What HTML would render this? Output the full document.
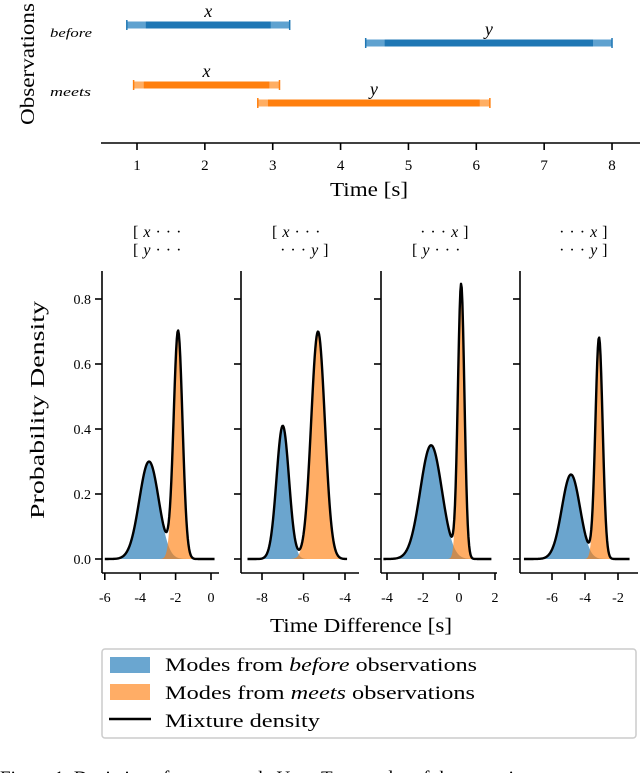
<!DOCTYPE html>
<html><head><meta charset="utf-8"><style>
html,body{margin:0;padding:0;background:#fff;width:640px;height:773px;overflow:hidden}
svg{display:block;font-family:"Liberation Serif",serif}
</style></head><body>
<svg id="fig" width="640" height="773" viewBox="0 0 640 773">
<g id="topchart"></g>
<g id="bottom"></g>
<g>
<rect x="102" y="649" width="534" height="89" rx="3" fill="#fff" stroke="#ccc" stroke-width="1.5"/>
<rect x="110" y="657" width="40" height="16" fill="#6aa6d0"/>
<text x="165" y="671" font-size="19" textLength="312" lengthAdjust="spacingAndGlyphs">Modes from <tspan font-style="italic">before</tspan> observations</text>
<rect x="110" y="684" width="40" height="16" fill="#ffad66"/>
<text x="165" y="699" font-size="19" textLength="310" lengthAdjust="spacingAndGlyphs">Modes from <tspan font-style="italic">meets</tspan> observations</text>
<line x1="109" y1="719" x2="151" y2="719" stroke="#000" stroke-width="2.5"/>
<text x="165" y="727" font-size="19" textLength="155" lengthAdjust="spacingAndGlyphs">Mixture density</text>
</g>
<text x="0" y="784" font-size="19">Figure 1:  Depiction of two example Ucen  Two modes of the posterior</text>
</svg>
<script>
// ---- top chart data ----
var obsLabels = ["x","y","x","y"];
var obsStart = [0.85, 4.37, 0.95, 2.78];
var obsEnd = [3.25, 8.0, 3.1, 6.2];
var obsGroup = ["before","before","meets","meets"];
var topTicks = [1,2,3,4,5,6,7,8];
// ---- bottom panels data ----
var blueMean = [-3.5, -7.0, -1.55, -4.85];
var blueSd = [0.55, 0.3, 0.6, 0.55];
var bluePeak = [0.30, 0.41, 0.35, 0.26];
var orangeMean = [-1.86, -5.3, 0.12, -3.15];
var orangeSd = [0.25, 0.33, 0.18, 0.22];
var orangePeak = [0.70, 0.70, 0.84, 0.68];
var domainMin = [-6, -8.7, -4.2, -7.7];
var domainMax = [0.2, -3.9, 1.8, -1.3];
var xTickVals = [[-6,-4,-2,0],[-8,-6,-4],[-4,-2,0,2],[-6,-4,-2]];
var yTickVals = [0.0,0.2,0.4,0.6,0.8];
var titleL1 = [["[ ","x"," · · ·"],["[ ","x"," · · ·"],["· · · ","x"," ]"],["· · · ","x"," ]"]];
var titleL2 = [["[ ","y"," · · ·"],["· · · ","y"," ]"],["[ ","y"," · · ·"],["· · · ","y"," ]"]];

(function(){
var NS="http://www.w3.org/2000/svg";
function mk(parent,tag,attrs){var e=document.createElementNS(NS,tag);for(var k in attrs)e.setAttribute(k,attrs[k]);parent.appendChild(e);return e;}

// ---- top chart ----
var tc=document.getElementById('topchart');
function tx(v){return 137+(v-1)*67.86;}
var rowY={before:[25,43],meets:[85,103]};
var cnt={before:0,meets:0};
var ax0=mk(tc,'line',{x1:101,y1:143,x2:640,y2:143,stroke:'#000','stroke-width':1.6});


for(var i=0;i<topTicks.length;i++){
  var t=mk(tc,'line',{x1:tx(topTicks[i]),y1:143,x2:tx(topTicks[i]),y2:150,stroke:'#000','stroke-width':1.6});
  
  
  var l=mk(tc,'text',{x:tx(topTicks[i]),y:170,'font-size':15,'text-anchor':'middle'});l.textContent=topTicks[i];
  
  
}
var xl=mk(tc,'text',{x:369,y:196,'font-size':20,'text-anchor':'middle',textLength:78,lengthAdjust:'spacingAndGlyphs'});xl.textContent='Time [s]';


var yl=mk(tc,'text',{x:0,y:0,'font-size':20,'text-anchor':'middle',textLength:122,lengthAdjust:'spacingAndGlyphs',transform:'translate(34,64) rotate(-90)'});yl.textContent='Observations';


var g1=mk(tc,'text',{x:50,y:37,'font-size':13,'font-style':'italic',textLength:42,lengthAdjust:'spacingAndGlyphs'});g1.textContent='before';


var g2=mk(tc,'text',{x:50,y:96,'font-size':13,'font-style':'italic',textLength:41,lengthAdjust:'spacingAndGlyphs'});g2.textContent='meets';


for(var i=0;i<obsStart.length;i++){
  var grp=obsGroup[i];var y=rowY[grp][cnt[grp]++];
  var col=grp==='before'?'#1f77b4':'#ff7f0e';var lc=grp==='before'?'#5fa2d0':'#ffae63';
  var x0=tx(obsStart[i]),x1=tx(obsEnd[i]);
  var m=grp==='before'?0.28:0.15;
  var lm=m*67.86;
  var b=mk(tc,'rect',{x:x0,y:y-3.5,width:x1-x0,height:7,fill:lc});
  
  
  mk(tc,'rect',{x:x0+lm,y:y-3.5,width:Math.max(0,x1-x0-2*lm),height:7,fill:col});
  mk(tc,'line',{x1:x0,y1:y-5,x2:x0,y2:y+5,stroke:col,'stroke-width':1.5});
  mk(tc,'line',{x1:x1,y1:y-5,x2:x1,y2:y+5,stroke:col,'stroke-width':1.5});
  var lb=mk(tc,'text',{x:(x0+x1)/2,y:y-8,'font-size':18,'font-style':'italic','text-anchor':'middle'});lb.textContent=obsLabels[i];
  
  
}

// ---- bottom panels ----
var bot=document.getElementById('bottom');
var spineX=[102,241,381,520];
var zeroX=[211,428,459,651];
var ppu=[17.7,20.75,18,16.5];
var rightEnd=[219,359,497,638];
function yv(v){return 559-v*325;}
function gauss(x,m,s,p){return p*Math.exp(-0.5*((x-m)/s)*((x-m)/s));}
for(var p=0;p<4;p++){
  (function(p){
  var g=mk(bot,'g',{});
  
  
  function xp(v){return zeroX[p]+v*ppu[p];}
  var N=160,bl=[],ol=[],ml=[];
  for(var k=0;k<=N;k++){
    var v=domainMin[p]+(domainMax[p]-domainMin[p])*k/N;
    var b=gauss(v,blueMean[p],blueSd[p],bluePeak[p]);
    var o=gauss(v,orangeMean[p],orangeSd[p],orangePeak[p]);
    bl.push(xp(v).toFixed(2)+','+yv(b).toFixed(2));
    ol.push(xp(v).toFixed(2)+','+yv(o).toFixed(2));
    ml.push(xp(v).toFixed(2)+','+yv(b+o).toFixed(2));
  }
  var x0=xp(domainMin[p]).toFixed(2),x1=xp(domainMax[p]).toFixed(2);
  var bf=mk(g,'path',{d:'M'+x0+','+yv(0)+'L'+bl.join('L')+'L'+x1+','+yv(0)+'Z',fill:'rgba(31,119,180,0.66)'});
  
  
  var of=mk(g,'path',{d:'M'+x0+','+yv(0)+'L'+ol.join('L')+'L'+x1+','+yv(0)+'Z',fill:'rgba(255,127,14,0.64)'});
  
  
  var mline=mk(g,'path',{d:'M'+ml.join('L'),fill:'none',stroke:'#000','stroke-width':2.4,'stroke-linejoin':'round'});
  
  
  var sx=spineX[p];
  var ya=mk(g,'line',{x1:sx,y1:271,x2:sx,y2:573,stroke:'#000','stroke-width':1.6});
  
  
  var xa=mk(g,'line',{x1:sx,y1:573,x2:rightEnd[p],y2:573,stroke:'#000','stroke-width':1.6});
  
  
  for(var j=0;j<yTickVals.length;j++){
    var yt=mk(g,'line',{x1:sx-7,y1:yv(yTickVals[j]),x2:sx,y2:yv(yTickVals[j]),stroke:'#000','stroke-width':1.6});
    
    
    if(p===0){
      var tl=mk(g,'text',{x:sx-11,y:yv(yTickVals[j])+5,'font-size':14,'text-anchor':'end'});tl.textContent=yTickVals[j].toFixed(1);
      
      
    }
  }
  for(var j=0;j<xTickVals[p].length;j++){
    var v=xTickVals[p][j];
    var xt=mk(g,'line',{x1:xp(v),y1:573,x2:xp(v),y2:580,stroke:'#000','stroke-width':1.6});
    
    
    var xl2=mk(g,'text',{x:xp(v),y:602,'font-size':14,'text-anchor':'middle'});xl2.textContent=String(v);
    
    
  }
  var t1=titleL1[p],t2=titleL2[p];
  var a1=t1[0].charAt(0)==='['?'start':'end';
  var axp=a1==='start'?sx+31:sx+88;
  var tt=mk(g,'text',{x:axp,y:237,'font-size':16,'text-anchor':a1,'letter-spacing':'0.5'});
  tt.appendChild(document.createTextNode(t1[0]));
  mk(tt,'tspan',{'font-style':'italic'}).textContent=t1[1];
  tt.appendChild(document.createTextNode(t1[2]));
  
  
  var a2=t2[0].charAt(0)==='['?'start':'end';
  var axp2=a2==='start'?sx+31:sx+88;
  var tt2=mk(g,'text',{x:axp2,y:255,'font-size':16,'text-anchor':a2,'letter-spacing':'0.5'});
  tt2.appendChild(document.createTextNode(t2[0]));
  mk(tt2,'tspan',{'font-style':'italic'}).textContent=t2[1];
  tt2.appendChild(document.createTextNode(t2[2]));
  
  
  })(p);
}
var pd=mk(bot,'text',{x:0,y:0,'font-size':20,'text-anchor':'middle',textLength:218,lengthAdjust:'spacingAndGlyphs',transform:'translate(44,410) rotate(-90)'});pd.textContent='Probability Density';


var td=mk(bot,'text',{x:361,y:632,'font-size':20,'text-anchor':'middle',textLength:182,lengthAdjust:'spacingAndGlyphs'});td.textContent='Time Difference [s]';


})();
</script>
</body></html>
